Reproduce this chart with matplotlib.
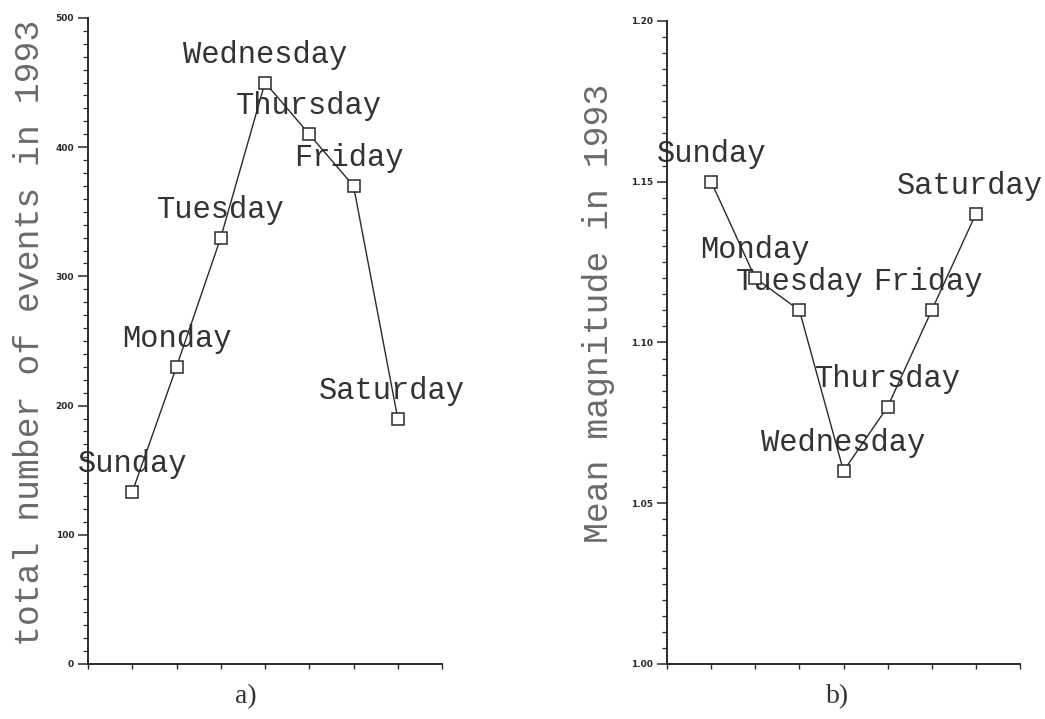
import numpy as np
import matplotlib
matplotlib.use('Agg')
import matplotlib.pyplot as plt
from matplotlib.ticker import MultipleLocator

# Data
days = ['Sunday', 'Monday', 'Tuesday', 'Wednesday', 'Thursday', 'Friday', 'Saturday']
day_pos = [1, 2, 3, 4, 5, 6, 7]
events = [133, 230, 330, 450, 410, 370, 190]
mean_mag = [1.15, 1.12, 1.11, 1.06, 1.08, 1.11, 1.14]

mono = 'Liberation Mono'
ink = '#2a2a2a'
# small horizontal nudge of the day labels (points)
label_dx = [0, 0, 0, 0, 0, -3, -4]

fig = plt.figure(figsize=(10.45, 7.19), dpi=100)
ax_a = fig.add_axes([0.0842, 0.0765, 0.3388, 0.8985])
ax_b = fig.add_axes([0.6383, 0.0765, 0.3378, 0.8945])

panels = [
    (ax_a, events, (0, 500), 100, 10, 'total number of events in 1993', 'a)', -0.165, 0.512, 0.445),
    (ax_b, mean_mag, (1.00, 1.20), 0.05, 0.005, 'Mean magnitude in 1993', 'b)', -0.195, 0.545, 0.482),
]

for ax, vals, ylim, major, minor, ylab, tag, lx, ly, tx in panels:
    ax.plot(day_pos, vals, color=ink, lw=1.0, marker='s', ms=8,
            mfc='white', mec=ink, mew=1.1, zorder=3)
    for x, v, name, dx in zip(day_pos, vals, days, label_dx):
        ax.annotate(name, (x, v), xytext=(dx, 20), textcoords='offset points',
                    ha='center', va='center', fontsize=22, family=mono,
                    color='#333333', zorder=2, annotation_clip=False)

    ax.set_xlim(0, 8)
    ax.set_ylim(*ylim)
    ax.xaxis.set_major_locator(MultipleLocator(1))
    ax.set_xticklabels([])
    ax.yaxis.set_major_locator(MultipleLocator(major))
    ax.yaxis.set_minor_locator(MultipleLocator(minor))
    if major < 1:
        ax.yaxis.set_major_formatter(plt.FormatStrFormatter('%.2f'))
    ax.tick_params(axis='y', which='major', length=7, width=1.1, pad=3,
                   labelsize=6.5, colors=ink)
    ax.tick_params(axis='y', which='minor', length=3.5, width=0.9, colors=ink)
    ax.tick_params(axis='x', which='major', length=3.5, width=1.0, colors=ink)
    for lbl in ax.get_yticklabels():
        lbl.set_fontweight('bold')

    for side in ['top', 'right']:
        ax.spines[side].set_visible(False)
    for side in ['left', 'bottom']:
        ax.spines[side].set_linewidth(1.4)
        ax.spines[side].set_color(ink)

    ax.text(lx, ly, ylab, transform=ax.transAxes, rotation=90,
            ha='center', va='center', fontsize=25, family=mono, color='#6a6a6a')
    ax.text(tx, -0.05, tag, transform=ax.transAxes, ha='center', va='center',
            fontsize=20, family='Liberation Serif', color='#333333')

fig.savefig('out.png', dpi=100)
